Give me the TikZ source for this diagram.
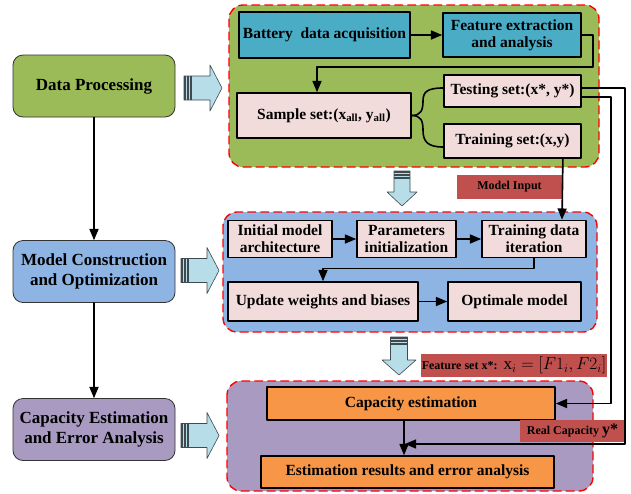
\documentclass[tikz,border=0pt]{standalone}
\usepackage{fontspec}
\setmainfont{Liberation Serif}
\usepackage{tikz}
\usetikzlibrary{arrows,calc}
\definecolor{procgreen}{HTML}{9BBB59}
\definecolor{modelblue}{HTML}{8EB4E3}
\definecolor{capviolet}{HTML}{A89AC0}
\definecolor{acqteal}{HTML}{4BACC6}
\definecolor{setpink}{HTML}{F2DCDB}
\definecolor{estorange}{HTML}{F79646}
\definecolor{tagred}{HTML}{C0504D}
\definecolor{arrowfill}{HTML}{B7DEE8}
\definecolor{arrowedge}{HTML}{3F4A50}
\tikzset{
  stage/.style={draw=black!80,line width=0.8,rounded corners=10,fill=#1,align=center,
    minimum width=162,minimum height=62,inner sep=0,font=\fontsize{17}{20}\selectfont\bfseries},
  box/.style={draw=black,line width=1.8,fill=#1,align=center,inner sep=0,
    font=\fontsize{15.5}{17}\selectfont\bfseries},
  panel/.style={draw=red,line width=1.4,dash pattern=on 8pt off 5pt,rounded corners=14,fill=#1},
  tag/.style={fill=tagred,inner sep=0,font=\fontsize{12}{14}\selectfont\bfseries},
  link/.style={->,line width=1.6}
}
% hollow block arrow: position, angle, length, half shaft, half head, head length
\newcommand{\blockarrow}[6]{%
  \begin{scope}[shift={#1},rotate=#2]
    \draw[draw=arrowedge,fill=arrowfill,line width=0.6] (0,-#4) -- (#3-#6,-#4) -- (#3-#6,-#5)
      -- (#3,0) -- (#3-#6,#5) -- (#3-#6,#4) -- (0,#4) -- cycle;
    \fill[arrowedge] (0,-#4) rectangle (1.8,#4);
    \fill[arrowedge] (3,-#4) rectangle (4.8,#4);
    \fill[arrowedge] (6,-#4) rectangle (7.8,#4);
  \end{scope}}
\begin{document}
\begin{tikzpicture}[line cap=round,line join=round,>=triangle 45,x=1pt,y=-1pt]
\useasboundingbox (0,0) rectangle (631,493);
% stages on the left
\node[stage=procgreen] (dp) at (94,86) {Data Processing};
\node[stage=modelblue] (mc) at (94,271.5) {Model Construction\\and Optimization};
\node[stage=capviolet] (ce) at (94,429.5) {Capacity Estimation\\and Error Analysis};
\draw[link] (dp) -- (mc);
\draw[link] (mc) -- (ce);
\blockarrow{(184,88)}{0}{38}{12}{23}{12}
\blockarrow{(181,270.5)}{0}{38}{12}{23}{12}
\blockarrow{(181,435.5)}{0}{38}{12}{23}{12}
\blockarrow{(402,171)}{-90}{35}{8}{15}{14}
\blockarrow{(399,337)}{-90}{38}{8.5}{17}{15}
% data processing
\draw[panel=procgreen] (229,5) rectangle (599,167);
\node[box=acqteal,minimum width=171,minimum height=46] (bda) at (324.5,35) {Battery\ \ data acquisition};
\node[box=acqteal,minimum width=138,minimum height=44] (fea) at (512,35) {Feature extraction\\and analysis};
\node[box=setpink,minimum width=174,minimum height=45] (sam) at (324,115.5) {Sample set:(x\textsubscript{all}, y\textsubscript{all})};
\node[box=setpink,minimum width=137,minimum height=32] (tst) at (512.5,91) {Testing set:(x*, y*)};
\node[box=setpink,minimum width=137,minimum height=34] (trn) at (512.5,141) {Training set:(x,y)};
\coordinate (k1) at (593,67);
\draw[link] (bda) -- (fea);
\draw[link] (fea.east) -| (k1) -| ($(sam.north)+(-7,0)$);
\draw[line width=1.6] (sam.east) .. controls (421,115.5) and (423,110) .. (423,101)
  .. controls (423,92) and (427,88) .. ($(tst.west)+(0,-3)$);
\draw[line width=1.6] (sam.east) .. controls (421,115.5) and (423,121) .. (423,130)
  .. controls (423,141) and (427,147) .. ($(trn.west)+(0,6)$);
\node[tag,minimum width=105,minimum height=24] (mi) at (509.5,187) {Model Input};
% model construction
\draw[panel=modelblue] (223,212) rectangle (597,332);
\node[box=setpink,minimum width=104,minimum height=37] (ini) at (280,239) {Initial model\\architecture};
\node[box=setpink,minimum width=99,minimum height=37] (par) at (406.5,239) {Parameters\\initialization};
\node[box=setpink,minimum width=104,minimum height=37] (itr) at (534,239) {Training data\\iteration};
\node[box=setpink,minimum width=190,minimum height=39] (upd) at (323,301.5) {Update weights and biases};
\node[box=setpink,minimum width=133,minimum height=39] (opt) at (514.5,301.5) {Optimale model};
\draw[link] (ini) -- (par);
\draw[link] (par) -- (itr);
\draw[link] (itr.south) -- ++(0,10) -| (upd.north);
\draw[link] (upd) -- (opt);
\draw[link] ($(trn.south east)+(-19,0)$) -- ($(itr.north)+(28,0)$);
\node[tag,minimum width=186,minimum height=23] (fs) at (514,365.5)
  {Feature set x*:\ \ {\fontsize{17}{17}\selectfont$\mathrm{x}_i=[F1_i,F2_i]$}};
% capacity estimation
\draw[panel=capviolet] (227,381) rectangle (593,491);
\node[box=estorange,minimum width=288,minimum height=33] (cap) at (411,403.5) {Capacity estimation};
\node[box=estorange,minimum width=293,minimum height=32] (res) at (407.5,472) {Estimation results and error analysis};
\node[tag,minimum width=105,minimum height=22] (rcap) at (572.5,431) {Real Capacity {\fontsize{16}{16}\selectfont y*}};
\coordinate (jn) at ($(cap.south)+(-7,0)$);
\coordinate (rc) at (405,444);
\draw[link] (jn) -- (jn |- res.north);
\draw[link] ($(tst.east)+(0,-3)$) -| ($(rc)+(220,0)$) -- (rc);
\draw[link] ($(tst.east)+(0,6)$) -| ($(cap.east)+(55,0)$) -- (cap.east);
\end{tikzpicture}
\end{document}
